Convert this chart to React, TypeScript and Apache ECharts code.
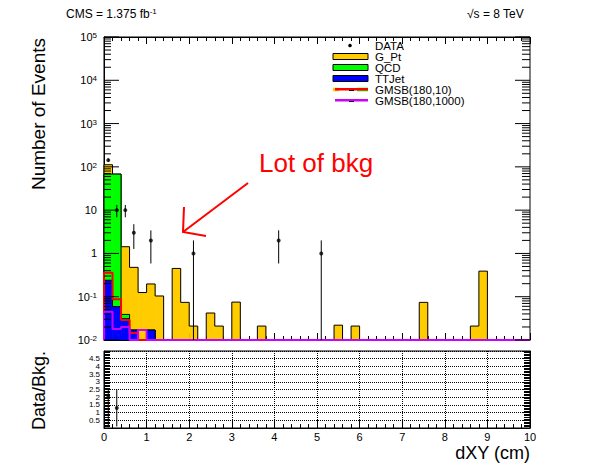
import { useEffect, useRef } from 'react';
import * as echarts from 'echarts';

const FONT = '"Liberation Sans", Arial, Helvetica, sans-serif';

// x binning (cm) and log y range
const X_MIN = 0;
const X_MAX = 10;
const BIN_W = 0.2;
const Y_MIN = 0.01;
const Y_MAX = 1e5;
const LOG_EXP = [-2, -1, 0, 1, 2, 3, 4, 5];

// MC samples, 50 bins of 0.2 cm
const G_PT = [
  44, 0, 1.39, 0.46, 0.125, 0.18, 0.104, 0, 0.45, 0.074,
  0.021, 0, 0.042, 0.021, 0, 0.075, 0, 0, 0.021, 0,
  0, 0, 0, 0, 0, 0, 0, 0.022, 0, 0.021,
  0, 0, 0, 0, 0, 0, 0, 0.074, 0, 0,
  0, 0, 0, 0.021, 0.39, 0, 0, 0, 0, 0,
];
const QCD = [67.8, 67.9, 0.008, ...new Array(47).fill(0)];
const TTJET = [0.24, 0.059, 0.031, 0.017, 0, 0.017, ...new Array(44).fill(0)];
const GMSB_10 = [0.36, 0.087, 0.029, 0.0145, ...new Array(46).fill(0)];
const GMSB_1000 = [0.045, 0.018, 0.02, 0, 0.017, ...new Array(45).fill(0)];

// data points
const DATA_X = [0.1, 0.3, 0.5, 0.7, 1.1, 2.1, 4.1, 5.1];
const DATA_Y = [143, 10, 10, 3, 2, 1, 2, 1];

// ratio panel
const RATIO_X = [0.1, 0.3];
const RATIO_Y = [2.0, 1.3];
const RATIO_HI = [2.5, 2.5];
const RATIO_LO = [0.05, 0.1];

const binEdge = (i: number) => X_MIN + i * BIN_W;
const sumArr = (...arrs: number[][]) => arrs[0].map((_, i) => arrs.reduce((s, a) => s + a[i], 0));
const floorV = (v: number) => Math.max(v, Y_MIN);

const STACK_BLUE = TTJET;
const STACK_GREEN = sumArr(TTJET, QCD);
const STACK_YELLOW = sumArr(TTJET, QCD, G_PT);

const stepPoints = (vals: number[]) => {
  const pts: number[][] = [[X_MIN, Y_MIN]];
  vals.forEach((v, i) => pts.push([binEdge(i), floorV(v)]));
  pts.push([X_MAX, floorV(vals[vals.length - 1])]);
  pts.push([X_MAX, Y_MIN]);
  return pts;
};

const fillSeries = (vals: number[], color: string, z: number) => ({
  type: 'custom',
  xAxisIndex: 0,
  yAxisIndex: 0,
  silent: true,
  z,
  encode: { x: [0, 1], y: 2 },
  data: vals.map((v, i) => [binEdge(i), binEdge(i + 1), v]).filter((d) => d[2] > Y_MIN),
  renderItem: (_p: any, api: any) => {
    const p0 = api.coord([api.value(0), api.value(2)]);
    const p1 = api.coord([api.value(1), Y_MIN]);
    return {
      type: 'rect',
      shape: { x: p0[0], y: p0[1], width: p1[0] - p0[0] + 0.4, height: p1[1] - p0[1] },
      style: { fill: color },
    };
  },
});

const stepSeries = (vals: number[], color: string, width: number, z: number, clip: boolean) => ({
  type: 'line',
  xAxisIndex: 0,
  yAxisIndex: 0,
  step: 'end',
  silent: true,
  clip,
  z,
  symbol: 'none',
  lineStyle: { color, width },
  data: stepPoints(vals),
});

const errSeries = (xs: number[], lo: number[], hi: number[], xi: number, yi: number, minV: number) => ({
  type: 'custom',
  xAxisIndex: xi,
  yAxisIndex: yi,
  silent: true,
  z: 20,
  encode: { x: 0, y: 1 },
  data: xs.map((x, i) => [x, Math.max(lo[i], minV), hi[i]]),
  renderItem: (_p: any, api: any) => {
    const a = api.coord([api.value(0), api.value(1)]);
    const b = api.coord([api.value(0), api.value(2)]);
    return {
      type: 'line',
      shape: { x1: a[0], y1: a[1], x2: b[0], y2: b[1] },
      style: { stroke: '#000', lineWidth: 1 },
    };
  },
});

const tickLine = (x1: number, y1: number, x2: number, y2: number) => ({
  type: 'line',
  shape: { x1, y1, x2, y2 },
  style: { stroke: '#000', lineWidth: 1 },
});

const txt = (x: number, y: number, text: string, size: number, extra: any = {}) => ({
  type: 'text',
  x,
  y,
  silent: true,
  style: { text, fontSize: size, fontFamily: FONT, fill: '#000', verticalAlign: 'middle', ...extra },
});

const LEG_X = 333;
const LEG_W = 35;
const LEG_TX = 375;
const LEG_Y0 = 45.5;
const LEG_DY = 11;
const LEGEND_NAMES = ['DATA', 'G_Pt', 'QCD', 'TTJet', 'GMSB(180,10)', 'GMSB(180,1000)'];

const App = () => {
  const chartDom = useRef<HTMLDivElement | null>(null);

  useEffect(() => {
    if (!chartDom.current) return;
    const myChart = echarts.init(chartDom.current, null, { renderer: 'svg' });

    const dataLo = DATA_Y.map((v) => v - Math.sqrt(v));
    const dataHi = DATA_Y.map((v) => v + Math.sqrt(v));

    const legendGraphics: any[] = [
      { type: 'circle', shape: { cx: 350, cy: LEG_Y0, r: 1.8 }, style: { fill: '#000' } },
      { type: 'rect', shape: { x: LEG_X, y: LEG_Y0 + LEG_DY - 3, width: LEG_W, height: 6 }, style: { fill: '#ffcc00', stroke: '#000', lineWidth: 1 } },
      { type: 'rect', shape: { x: LEG_X, y: LEG_Y0 + 2 * LEG_DY - 3, width: LEG_W, height: 6 }, style: { fill: '#00ff00', stroke: '#000', lineWidth: 1 } },
      { type: 'rect', shape: { x: LEG_X, y: LEG_Y0 + 3 * LEG_DY - 3, width: LEG_W, height: 6 }, style: { fill: '#0000ff', stroke: '#000', lineWidth: 1 } },
      { type: 'rect', shape: { x: LEG_X, y: LEG_Y0 + 4 * LEG_DY - 1.8, width: 6, height: 3.6 }, style: { fill: '#ffcc00' } },
      { type: 'rect', shape: { x: LEG_X + 24, y: LEG_Y0 + 4 * LEG_DY - 1.8, width: 11, height: 3.6 }, style: { fill: '#00ff00' } },
      { type: 'line', shape: { x1: LEG_X + 2, y1: LEG_Y0 + 4 * LEG_DY - 0.3, x2: LEG_X + LEG_W, y2: LEG_Y0 + 4 * LEG_DY - 0.3 }, style: { stroke: '#ff0000', lineWidth: 2.5 } },
      { type: 'line', shape: { x1: LEG_X + 2, y1: LEG_Y0 + 5 * LEG_DY - 0.3, x2: LEG_X + LEG_W, y2: LEG_Y0 + 5 * LEG_DY - 0.3 }, style: { stroke: '#cc00ff', lineWidth: 2.5 } },
      tickLine(LEG_X + 16, LEG_Y0 + 4 * LEG_DY + 1, LEG_X + 21, LEG_Y0 + 4 * LEG_DY + 1),
      tickLine(LEG_X + 16, LEG_Y0 + 5 * LEG_DY + 1, LEG_X + 21, LEG_Y0 + 5 * LEG_DY + 1),
    ];
    LEGEND_NAMES.forEach((n, i) =>
      legendGraphics.push(txt(LEG_TX, LEG_Y0 + i * LEG_DY, n, 11.5, { lineHeight: 10.5 }))
    );

    const option = {
      animation: false,
      backgroundColor: '#fff',
      textStyle: { fontFamily: FONT },
      grid: [
        { left: 104, top: 37, width: 426, height: 303, show: true, borderColor: '#000', borderWidth: 1, backgroundColor: 'transparent', containLabel: false, outerBoundsMode: 'none' },
        { left: 104, top: 351, width: 426, height: 77, show: true, borderColor: '#000', borderWidth: 1, backgroundColor: 'transparent', containLabel: false, outerBoundsMode: 'none' },
      ],
      xAxis: [
        {
          type: 'value', gridIndex: 0, min: X_MIN, max: X_MAX, interval: 1,
          axisLine: { lineStyle: { color: '#000' } },
          axisTick: { inside: true, length: 7, lineStyle: { color: '#000' } },
          minorTick: { show: true, splitNumber: 5, length: 4, lineStyle: { color: '#000' } },
          axisLabel: { show: false },
          splitLine: { show: false },
        },
        {
          type: 'value', gridIndex: 0, position: 'top', min: X_MIN, max: X_MAX, interval: 1,
          axisLine: { lineStyle: { color: '#000' } },
          axisTick: { inside: true, length: 7, lineStyle: { color: '#000' } },
          minorTick: { show: true, splitNumber: 5, length: 4, lineStyle: { color: '#000' } },
          axisLabel: { show: false },
          splitLine: { show: false },
        },
        {
          type: 'value', gridIndex: 1, min: X_MIN, max: X_MAX, interval: 1,
          axisLine: { lineStyle: { color: '#000' } },
          axisTick: { inside: true, length: 8, lineStyle: { color: '#000' } },
          minorTick: { show: true, splitNumber: 5, length: 4, lineStyle: { color: '#000' } },
          axisLabel: { color: '#000', fontSize: 11, fontFamily: FONT, margin: 3, showMinLabel: true, showMaxLabel: true },
          splitLine: { show: true, lineStyle: { color: '#000', type: 'dotted', width: 1 } },
        },
      ],
      yAxis: [
        {
          type: 'log', gridIndex: 0, logBase: 10, min: Y_MIN, max: Y_MAX, splitNumber: 7,
          axisLine: { show: true, lineStyle: { color: '#000' } },
          axisTick: { show: false },
          splitLine: { show: false },
          axisLabel: {
            color: '#000', fontSize: 11, fontFamily: FONT, margin: 7, showMinLabel: true, showMaxLabel: true,
            formatter: (v: number) => {
              const e = Math.round(Math.log10(v));
              if (e === 0) return '1';
              if (e === 1) return '10';
              return `10{sup|${e}}`;
            },
            rich: { sup: { fontSize: 8, lineHeight: 8, verticalAlign: 'top', fontFamily: FONT, color: '#000' } },
          },
        },
        {
          type: 'value', gridIndex: 1, min: 0, max: 5, interval: 0.5,
          axisLine: { show: true, lineStyle: { color: '#000' } },
          axisTick: { inside: true, length: 7, lineStyle: { color: '#000' } },
          minorTick: { show: true, splitNumber: 5, length: 6, lineStyle: { color: '#000' } },
          splitLine: { show: true, lineStyle: { color: '#000', type: 'dotted', width: 1 } },
          axisLabel: {
            color: '#000', fontSize: 8, lineHeight: 7, fontFamily: FONT, margin: 4, hideOverlap: false,
            formatter: (v: number) => (v >= 5 ? '' : String(v)),
          },
        },
        {
          type: 'value', gridIndex: 1, position: 'right', min: 0, max: 5, interval: 0.5,
          axisLine: { show: true, lineStyle: { color: '#000' } },
          axisTick: { inside: true, length: 7, lineStyle: { color: '#000' } },
          minorTick: { show: true, splitNumber: 5, length: 6, lineStyle: { color: '#000' } },
          splitLine: { show: false },
          axisLabel: { show: false },
        },
      ],
      series: [
        fillSeries(STACK_YELLOW, '#ffcc00', 2),
        stepSeries(STACK_YELLOW, '#000', 1, 3, true),
        fillSeries(STACK_GREEN, '#00ff00', 4),
        stepSeries(STACK_GREEN, '#000', 1, 5, true),
        fillSeries(STACK_BLUE, '#0000ff', 6),
        stepSeries(STACK_BLUE, '#000', 1, 7, true),
        stepSeries(GMSB_10, '#ff0000', 2, 8, false),
        stepSeries(GMSB_1000, '#cc00ff', 2, 9, false),
        errSeries(DATA_X, dataLo, dataHi, 0, 0, Y_MIN),
        {
          type: 'scatter', xAxisIndex: 0, yAxisIndex: 0, silent: true, z: 21,
          symbol: 'circle', symbolSize: 4, itemStyle: { color: '#000' },
          data: DATA_X.map((x, i) => [x, DATA_Y[i]]),
        },
        {
          // log ticks on both sides of the upper frame
          type: 'custom', xAxisIndex: 0, yAxisIndex: 0, silent: true, z: 30,
          encode: { x: 0, y: 1 },
          data: LOG_EXP.map((k) => [X_MIN, Math.pow(10, k)]),
          renderItem: (_p: any, api: any) => {
            const v = api.value(1);
            const L = api.coord([X_MIN, v]);
            const R = api.coord([X_MAX, v]);
            const children: any[] = [tickLine(L[0], L[1], L[0] + 15, L[1]), tickLine(R[0], R[1], R[0] - 15, R[1])];
            if (v < Y_MAX) {
              for (let m = 2; m <= 9; m++) {
                const y = api.coord([X_MIN, v * m])[1];
                children.push(tickLine(L[0], y, L[0] + 7, y), tickLine(R[0], y, R[0] - 8, y));
              }
            }
            return { type: 'group', children };
          },
        },
        errSeries(RATIO_X, RATIO_LO, RATIO_HI, 2, 1, 0),
        {
          type: 'scatter', xAxisIndex: 2, yAxisIndex: 1, silent: true, z: 21,
          symbol: 'circle', symbolSize: 4, itemStyle: { color: '#000' },
          data: RATIO_X.map((x, i) => [x, RATIO_Y[i]]),
        },
      ],
      graphic: [
        txt(66, 13.5, 'CMS = 1.375 fb{sup|-1}', 12, {
          rich: { sup: { fontSize: 8, lineHeight: 8, verticalAlign: 'top', fontFamily: FONT, fill: '#000' } },
        }),
        txt(467, 13.5, '√s = 8 TeV', 12),
        { ...txt(38, 38, 'Number of Events', 19, { align: 'right' }), rotation: Math.PI / 2 },
        { ...txt(39, 351, 'Data/Bkg.', 18, { align: 'right' }), rotation: Math.PI / 2 },
        txt(530, 453, 'dXY (cm)', 18, { align: 'right' }),
        txt(259, 163, 'Lot of bkg', 26, { fill: '#ff0000' }),
        { type: 'line', silent: true, shape: { x1: 248, y1: 183, x2: 183, y2: 232 }, style: { stroke: '#ff0000', lineWidth: 2 } },
        { type: 'polyline', silent: true, shape: { points: [[184, 207], [183, 232], [206, 236]] }, style: { stroke: '#ff0000', lineWidth: 2, fill: 'none' } },
        ...legendGraphics,
      ],
    };

    myChart.setOption(option as any);

    return () => {
      myChart.dispose();
    };
  }, []);

  return (
    <div
      ref={chartDom}
      style={{ position: 'fixed', left: 0, top: 0, width: 596, height: 472, background: '#fff' }}
    />
  );
};

export default App;
